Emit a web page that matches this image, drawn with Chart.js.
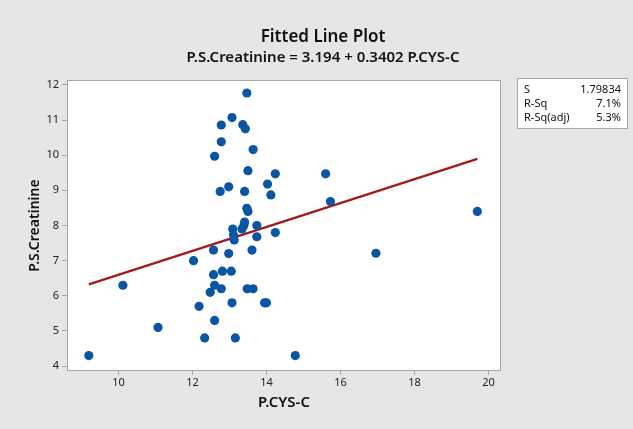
<!DOCTYPE html>
<html>
<head>
<meta charset="utf-8">
<script src="https://cdn.jsdelivr.net/npm/chart.js@4/dist/chart.umd.min.js"></script>
<style>
  html, body { margin: 0; padding: 0; background: #e6e6e6; }
  canvas { display: block; }
</style>
</head>
<body>
<canvas id="fitChart" width="633" height="429"></canvas>
<script>
// Valeurs
const cysC = [
  9.2, 10.12, 11.07, 12.03, 12.18, 12.33, 12.48, 12.57, 12.57, 12.6,
  12.6, 12.78, 12.81, 12.98, 13.05, 13.07, 13.16, 13.09, 13.11, 13.13,
  13.34, 13.39, 13.41, 13.48, 13.64, 13.61, 13.74, 13.74, 13.95, 14.0,
  14.24, 14.78, 13.47, 13.07, 12.78, 13.36, 13.43, 12.78, 13.64, 12.6,
  13.5, 14.24, 12.75, 12.98, 13.41, 13.47, 13.5, 14.03, 14.12, 15.6,
  15.73, 16.96, 19.7
];
const creatinine = [
  4.3, 6.3, 5.1, 7.0, 5.7, 4.8, 6.1, 7.3, 6.6, 6.3,
  5.3, 6.2, 6.7, 7.2, 6.7, 5.8, 4.8, 7.9, 7.73, 7.59,
  7.9, 8.0, 8.1, 6.2, 6.2, 7.3, 7.68, 8.0, 5.8, 5.8,
  7.8, 4.3, 11.77, 11.07, 10.86, 10.87, 10.75, 10.38, 10.16, 9.97,
  9.56, 9.47, 8.97, 9.1, 8.97, 8.49, 8.4, 9.18, 8.87, 9.47,
  8.68, 7.21, 8.4
];
// Droite ajustée (extrémités)
const fitX = [9.2, 19.7];
const fitY = [6.324, 9.896];

const xTicks = [10, 12, 14, 16, 18, 20];
const yTicks = [4, 5, 6, 7, 8, 9, 10, 11, 12];

const statLabels = ['S', 'R-Sq', 'R-Sq(adj)'];
const statValues = ['1.79834', '7.1%', '5.3%'];

const FONT = "'Noto Sans', 'Open Sans', sans-serif";

const decorPlugin = {
  id: 'decor',
  beforeDraw(chart) {
    const ctx = chart.ctx;
    const a = chart.chartArea;
    ctx.save();
    ctx.fillStyle = '#e6e6e6';
    ctx.fillRect(0, 0, chart.width, chart.height);
    ctx.fillStyle = '#ffffff';
    ctx.fillRect(a.left, a.top, a.right - a.left, a.bottom - a.top);
    ctx.restore();
  },
  afterDraw(chart) {
    const ctx = chart.ctx;
    const a = chart.chartArea;
    ctx.save();
    // cadre du graphique
    ctx.strokeStyle = '#a6a6a6';
    ctx.lineWidth = 1;
    ctx.strokeRect(a.left + 0.5, a.top + 0.5, a.right - a.left - 1, a.bottom - a.top - 1);

    // titres
    ctx.fillStyle = '#111';
    ctx.textAlign = 'center';
    ctx.textBaseline = 'middle';
    ctx.font = '600 17px ' + FONT;
    ctx.fillText('Fitted Line Plot', 323, 37);
    ctx.font = '600 15px ' + FONT;
    ctx.fillText('P.S.Creatinine = 3.194 + 0.3402 P.CYS-C', 323, 58);

    // boîte des statistiques
    ctx.fillStyle = '#ffffff';
    ctx.fillRect(517, 78, 111, 51);
    ctx.strokeStyle = '#a6a6a6';
    ctx.strokeRect(517.5, 78.5, 110, 50);
    ctx.fillStyle = '#111';
    ctx.font = '11px ' + FONT;
    const rows = [90, 104, 118];
    statLabels.forEach((lab, i) => {
      ctx.textAlign = 'left';
      ctx.fillText(lab, 524, rows[i]);
      ctx.textAlign = 'right';
      ctx.fillText(statValues[i], 621, rows[i]);
    });
    ctx.restore();
  }
};

new Chart(document.getElementById('fitChart').getContext('2d'), {
  type: 'scatter',
  data: {
    datasets: [{
      label: 'Points',
      data: cysC.map((x, i) => ({ x: x, y: creatinine[i] })),
      backgroundColor: '#0b55a3',
      borderWidth: 0,
      pointRadius: 4.6,
      pointHoverRadius: 4.6
    }, {
      type: 'line',
      label: 'Fit',
      data: fitX.map((x, i) => ({ x: x, y: fitY[i] })),
      borderColor: '#a3191c',
      borderWidth: 2.2,
      pointRadius: 0,
      fill: false
    }]
  },
  options: {
    responsive: false,
    animation: false,
    layout: { padding: { left: 0, top: 80, right: 132, bottom: 0 } },
    plugins: {
      legend: { display: false },
      tooltip: { enabled: false }
    },
    scales: {
      x: {
        type: 'linear',
        min: 8.61,
        max: 20.34,
        afterFit: s => { s.height = 58; },
        afterBuildTicks: s => { s.ticks = xTicks.map(v => ({ value: v })); },
        grid: { drawOnChartArea: false, drawTicks: true, tickLength: 4, color: '#a6a6a6' },
        border: { display: false },
        ticks: { padding: 1, color: '#222', font: { family: FONT, size: 11 } },
        title: {
          display: true, text: 'P.CYS-C', color: '#111',
          font: { family: FONT, size: 15, weight: '600' },
          padding: { top: 0, bottom: 17 }
        }
      },
      y: {
        type: 'linear',
        min: 3.86,
        max: 12.14,
        afterFit: s => { s.width = 67; },
        afterBuildTicks: s => { s.ticks = yTicks.map(v => ({ value: v })); },
        grid: { drawOnChartArea: false, drawTicks: true, tickLength: 5, color: '#a6a6a6' },
        border: { display: false },
        ticks: { padding: 3, color: '#222', font: { family: FONT, size: 11 } },
        title: {
          display: true, text: 'P.S.Creatinine', color: '#111',
          font: { family: FONT, size: 14, weight: '600' },
          padding: { top: 27, bottom: 0 }
        }
      }
    }
  },
  plugins: [decorPlugin]
});
</script>
</body>
</html>
